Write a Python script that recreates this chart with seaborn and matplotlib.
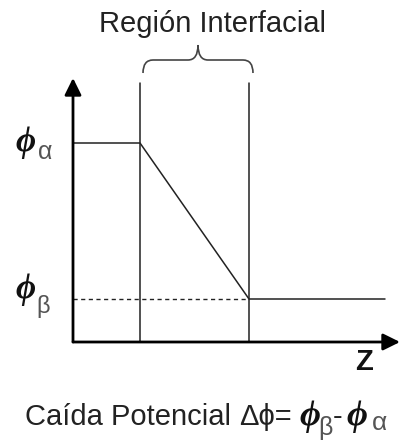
import matplotlib
matplotlib.use("Agg")
import matplotlib.pyplot as plt
import seaborn as sns
import pandas as pd
from matplotlib.path import Path
from matplotlib.patches import PathPatch

sns.set_theme(style="white")
plt.rcParams['font.family'] = ['Liberation Sans', 'DejaVu Sans']

# ---- data (diagram units: distance along z, potential) ----
z_profile = [0.0, 6.7, 17.6, 31.2]
phi_profile = [19.9, 19.9, 4.3, 4.3]
region_bounds = [6.7, 17.6]        # interfacial region edges
region_top = 25.9
phi_alpha = 19.9
phi_beta = 4.3
z_max = 32.7
phi_max = 26.4

title_text = "Región Interfacial"
axis_label = "Z"
caption_main = "Caída Potencial"

W, H = 401, 445
fig = plt.figure(figsize=(W / 100, H / 100), dpi=100)
ax = fig.add_axes([73 / W, (H - 342) / H, (400 - 73) / W, (342 - 78) / H])
ax.set_xlim(0, z_max)
ax.set_ylim(0, phi_max)
ax.axis("off")

def px(x, y):
    return (x / W, 1 - y / H)

line_kw = dict(sort=False, estimator=None, errorbar=None, color="#222222", ax=ax)

# profile
df = pd.DataFrame({"z": z_profile, "phi": phi_profile})
sns.lineplot(data=df, x="z", y="phi", lw=1.1, **line_kw)

# dashed reference at phi_beta
dash = pd.DataFrame({"z": [0, region_bounds[1]], "phi": [phi_beta, phi_beta]})
sns.lineplot(data=dash, x="z", y="phi", lw=1.0, linestyle=(0, (3, 2.5)), **line_kw)

# interfacial region boundaries
for zb in region_bounds:
    v = pd.DataFrame({"z": [zb, zb], "phi": [0, region_top]})
    sns.lineplot(data=v, x="z", y="phi", lw=1.1, **line_kw)

# axes arrows
arrow = dict(arrowstyle="-|>,head_length=0.85,head_width=0.42", lw=2.0,
             color="black", shrinkA=0, shrinkB=0)
ax.annotate("", xy=(z_max, 0), xytext=(0, 0), arrowprops=arrow, annotation_clip=False)
ax.annotate("", xy=(0, phi_max), xytext=(0, 0), arrowprops=arrow, annotation_clip=False)

# curly brace over the region
zl, zr = region_bounds[0] + 0.3, region_bounds[1] + 0.4
zc = (zl + zr) / 2
yb, yh, yt = 26.9, 28.2, 29.7
r = 1.0
verts = [(zl, yb), (zl, yh), (zl + r, yh), (zc - r, yh), (zc, yh), (zc, yt),
         (zc, yh), (zc + r, yh), (zr - r, yh), (zr, yh), (zr, yb)]
codes = [Path.MOVETO, Path.CURVE3, Path.CURVE3, Path.LINETO, Path.CURVE3, Path.CURVE3,
         Path.CURVE3, Path.CURVE3, Path.LINETO, Path.CURVE3, Path.CURVE3]
ax.add_patch(PathPatch(Path(verts, codes), fill=False, lw=1.2, color="#444444",
                       clip_on=False))

txt = "#222222"
fig.text(*px(212, 24), title_text, ha="center", va="center", fontsize=21, color=txt)

phi_kw = dict(family="Liberation Serif", style="italic", weight="bold", color="#111111")
sub_kw = dict(family="Liberation Sans", color="#555555")

# phi labels
fig.text(*px(26, 142), "ϕ", ha="center", va="center", fontsize=25, **phi_kw)
fig.text(*px(45, 152), "α", ha="center", va="center", fontsize=18, **sub_kw)
fig.text(*px(26, 290), "ϕ", ha="center", va="center", fontsize=25, **phi_kw)
fig.text(*px(43, 306), "β", ha="center", va="center", fontsize=17, **sub_kw)

# axis label
fig.text(*px(364, 362), axis_label, ha="center", va="center", fontsize=21,
         weight="bold", color="#111111")

# caption
base = 425
fig.text(*px(25, base), caption_main, ha="left", va="baseline", fontsize=21, color=txt)
fig.text(*px(239, base), "Δϕ=", ha="left", va="baseline", fontsize=21, color=txt)
fig.text(*px(299, base), "ϕ", ha="left", va="baseline", fontsize=26, **phi_kw)
fig.text(*px(318, base + 10), "β", ha="left", va="baseline", fontsize=18, **sub_kw)
fig.text(*px(333, base), "-", ha="left", va="baseline", fontsize=21, color=txt)
fig.text(*px(346, base), "ϕ", ha="left", va="baseline", fontsize=26, **phi_kw)
fig.text(*px(372, base + 5), "α", ha="left", va="baseline", fontsize=19, **sub_kw)

fig.savefig("out.png", dpi=100, facecolor="white")
